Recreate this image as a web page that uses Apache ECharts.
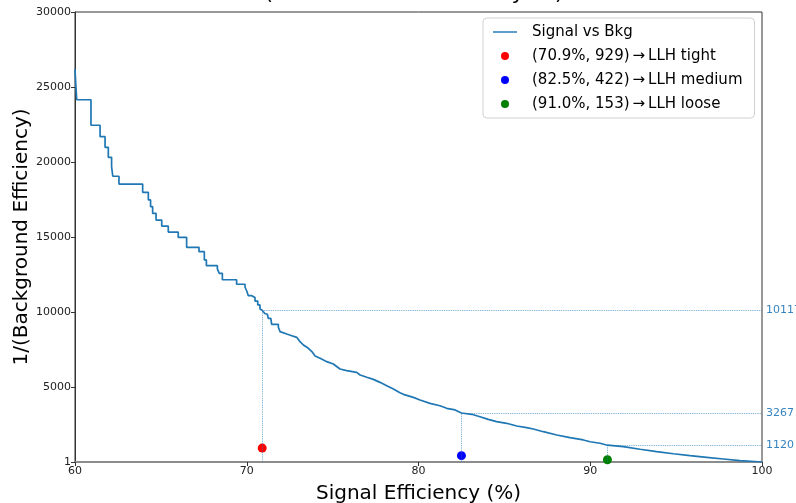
<!DOCTYPE html>
<html>
<head>
<meta charset="utf-8">
<script src="https://cdn.jsdelivr.net/npm/echarts@6/dist/echarts.min.js"></script>
<style>
html, body { margin: 0; padding: 0; background: #fff; }
#roc { width: 796px; height: 503px; }
</style>
</head>
<body>
<div id="roc"></div>
<script>
// ROC curve vertices: signal eff (%) and 1/bkg eff
var sigEff = [60.0, 60.05, 60.1, 60.93, 60.93, 61.46, 61.46, 61.75, 61.75, 61.94, 61.94, 62.13, 62.13, 62.2, 62.2, 62.56, 62.56, 63.94, 63.94, 64.27, 64.27, 64.4, 64.4, 64.52, 64.52, 64.72, 64.72, 65.05, 65.05, 65.43, 65.43, 66.01, 66.01, 66.5, 66.5, 67.22, 67.22, 67.53, 67.53, 67.65, 67.65, 68.29, 68.29, 68.4, 68.4, 68.58, 68.58, 69.41, 69.41, 69.9, 69.9, 70.0, 70.0, 70.09, 70.09, 70.29, 70.29, 70.48, 70.48, 70.64, 70.64, 70.77, 70.77, 70.9, 70.96, 71.05, 71.2, 71.25, 71.4, 71.45, 71.84, 71.84, 71.94, 71.94,
	72.33, 72.62, 72.91, 73.1, 73.3, 73.59, 73.79, 73.98, 74.27, 74.66, 75.04, 75.43, 75.82, 76.4, 76.6, 76.99, 77.37, 77.76, 78.15, 78.54, 78.92, 79.12, 79.7, 80.09, 80.67, 81.25, 81.64, 82.13, 82.5, 83.1, 83.58, 84.06, 84.55, 85.13, 85.72, 86.3, 86.68, 87.27, 88.05, 88.82, 89.6, 89.99, 90.57, 91.0, 91.92, 92.9, 93.87, 94.84, 95.81, 96.78, 97.75, 98.72, 100];
var invBkg = [26200, 25100, 24150, 24150, 22450, 22450, 21690, 21690, 20980, 20980, 20310, 20310, 19690, 19690, 19050, 19050, 18530, 18530, 17980, 17980, 17470, 17470, 17020, 17020, 16580, 16580, 16130, 16130, 15730, 15730, 15330, 15330, 14980, 14980, 14310, 14310, 14020, 14020, 13470, 13470, 13090, 13090, 12870, 12870, 12580, 12580, 12150, 12150, 11850, 11850, 11650, 11650, 11400, 11400, 11090, 11090, 10960, 10960, 10730, 10730, 10470, 10470, 10200, 10117, 10070, 9900, 9850, 9580, 9580, 9180, 9180, 8980, 8980, 8690,
	8530, 8420, 8310, 8020, 7800, 7580, 7360, 7070, 6910, 6690, 6530, 6200, 6090, 5980, 5800, 5650, 5510, 5310, 5090, 4870, 4620, 4510, 4310, 4130, 3910, 3750, 3580, 3470, 3267, 3180, 3020, 2840, 2690, 2580, 2400, 2290, 2200, 2020, 1800, 1620, 1470, 1350, 1250, 1120, 1020, 850, 690, 550, 420, 310, 200, 90, 1];

// working points
var wpEff = [70.9, 82.5, 91.0];
var wpRej = [929, 422, 153];
var wpCurve = [10117, 3267, 1120];
var wpName = ['tight', 'medium', 'loose'];
var wpColor = ['#ff0000', '#0000ff', '#008000'];

var yTicks = [0, 5000, 10000, 15000, 20000, 25000, 30000];

var font = 'DejaVu Sans';
var blue = '#1f77b4';

var curve = [];
for (var i = 0; i < sigEff.length; i++) curve.push([sigEff[i], invBkg[i]]);

var guides = [];
for (var k = 0; k < wpEff.length; k++) {
	guides.push([{ coord: [wpEff[k], 0] }, { coord: [wpEff[k], wpCurve[k]] }]);
	guides.push([
		{ coord: [wpEff[k], wpCurve[k]] },
		{ coord: [100, wpCurve[k]], label: { show: true, position: 'end', formatter: String(wpCurve[k]), color: '#3583bf', fontSize: 11, fontFamily: font, distance: 4 } }
	]);
}

var series = [{
	name: 'Signal vs Bkg',
	type: 'line',
	data: curve,
	symbol: 'none',
	lineStyle: { color: blue, width: 1.7 },
	itemStyle: { color: blue },
	z: 3,
	markLine: {
		silent: true,
		symbol: ['none', 'none'],
		animation: false,
		label: { show: false },
		lineStyle: { color: 'rgba(31,119,180,0.7)', type: 'dotted', width: 0.9, opacity: 1 },
		data: guides
	}
}];
var legendData = [{ name: 'Signal vs Bkg', icon: 'path://M0,0H20V1.2H0Z', itemStyle: { color: blue } }];
for (var j = 0; j < wpEff.length; j++) {
	var nm = '(' + wpEff[j].toFixed(1) + '%, ' + wpRej[j] + ')\u2009\u2192\u2009LLH ' + wpName[j];
	series.push({
		name: nm,
		type: 'scatter',
		data: [[wpEff[j], wpRej[j]]],
		symbol: 'circle',
		symbolSize: 9,
		itemStyle: { color: wpColor[j], opacity: 1 },
		z: 4
	});
	legendData.push({ name: nm, icon: 'circle', itemStyle: { color: wpColor[j], opacity: 1 } });
}

var chart = echarts.init(document.getElementById('roc'));
chart.setOption({
	animation: false,
	grid: { left: 75, right: 34, top: 12, bottom: 41, show: true, borderColor: '#333', borderWidth: 1, outerBoundsMode: 'none', containLabel: false },
	graphic: [{
		type: 'text',
		x: 414, y: 4,
		style: { text: '(Electron LLH Efficiency ID)', fontSize: 22, fontFamily: font, fill: '#000', align: 'center', verticalAlign: 'bottom' }
	}],
	legend: {
		data: legendData,
		orient: 'vertical',
		left: 483, top: 18,
		padding: [5, 12, 5, 10],
		itemWidth: 24, itemHeight: 8, itemGap: 6,
		backgroundColor: 'rgba(255,255,255,0.85)',
		borderColor: '#d0d0d0', borderWidth: 1, borderRadius: 4,
		textStyle: { fontSize: 15, fontFamily: font, color: '#000', lineHeight: 18, padding: [0, 0, 0, 10] }
	},
	xAxis: {
		type: 'value', min: 60, max: 100, interval: 10,
		name: 'Signal Efficiency (%)', nameLocation: 'middle', nameGap: 22, nameMoveOverlap: false,
		nameTextStyle: { fontSize: 20, fontFamily: font, color: '#000' },
		axisLine: { lineStyle: { color: '#8c8c8c', width: 2 } },
		axisTick: { length: 4, lineStyle: { color: '#333' } },
		axisLabel: { fontSize: 11, fontFamily: font, color: '#222', margin: 4 },
		splitLine: { show: false }
	},
	yAxis: {
		type: 'value', min: 0, max: 30000, interval: 5000,
		name: '1/(Background Efficiency)', nameLocation: 'middle', nameGap: 43, nameMoveOverlap: false,
		nameTextStyle: { fontSize: 20, fontFamily: font, color: '#000' },
		axisLine: { show: true, lineStyle: { color: '#333', width: 1 } },
		axisTick: { show: true, length: 4, lineStyle: { color: '#333' } },
		axisLabel: { fontSize: 11, fontFamily: font, color: '#222', margin: 4,
			formatter: function(v) { return yTicks.indexOf(v) === 0 ? '1' : String(v); } },
		splitLine: { show: false }
	},
	series: series
});
</script>
</body>
</html>
